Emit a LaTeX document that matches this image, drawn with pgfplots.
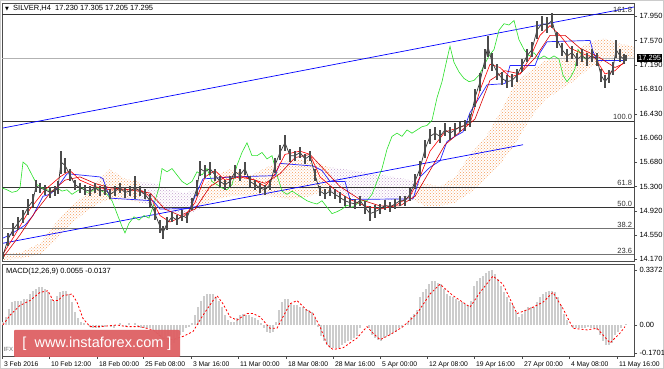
\documentclass[border=0pt]{standalone}
\usepackage{pgfplots}
\pgfplotsset{compat=1.18}
\usepackage{pgfplotstable}
\usetikzlibrary{patterns}
\usepackage{fontspec}
\setmainfont{Liberation Sans}
\newfontfamily\dejavu{DejaVu Sans}
\definecolor{wm}{RGB}{222,96,100}
\definecolor{chik}{RGB}{40,225,40}
\definecolor{lilac}{RGB}{195,160,205}
\definecolor{cloudor}{RGB}{245,155,90}
\newcommand\fs{\fontsize{7.5}{9}\selectfont}
\newcommand\fx{\fontsize{6.8}{8}\selectfont}

\pgfplotstableread{
t c e
3 14.23 0.06
8 14.48 0.10
13 14.63 0.10
18 14.73 0.10
23 14.83 0.10
28 14.98 0.12
33 15.08 0.10
36 15.31 0.10
40 15.28 0.08
45 15.25 0.08
50 15.21 0.08
55 15.23 0.08
58 15.28 0.10
61 15.68 0.18
65 15.63 0.12
70 15.48 0.10
75 15.33 0.08
80 15.28 0.08
85 15.25 0.08
90 15.23 0.08
95 15.28 0.08
100 15.23 0.08
105 15.25 0.08
110 15.18 0.08
115 15.23 0.08
120 15.28 0.08
125 15.21 0.08
130 15.23 0.08
135 15.28 0.18
140 15.23 0.08
145 15.18 0.08
150 15.08 0.10
155 14.88 0.10
160 14.68 0.10
163 14.58 0.10
167 14.73 0.10
172 14.83 0.08
177 14.78 0.08
182 14.85 0.08
187 14.81 0.08
192 15.03 0.10
197 15.28 0.12
200 15.58 0.12
205 15.53 0.10
210 15.58 0.10
215 15.48 0.10
220 15.38 0.08
225 15.33 0.08
230 15.38 0.08
235 15.53 0.10
240 15.48 0.10
245 15.58 0.10
250 15.38 0.08
255 15.33 0.08
260 15.28 0.08
265 15.25 0.08
270 15.33 0.08
275 15.63 0.12
280 15.83 0.12
285 15.98 0.12
290 15.78 0.10
295 15.78 0.08
300 15.83 0.08
305 15.73 0.08
310 15.78 0.08
315 15.48 0.10
320 15.23 0.08
325 15.18 0.08
330 15.23 0.08
335 15.18 0.08
340 15.13 0.08
345 15.08 0.08
350 15.05 0.08
355 15.03 0.08
360 15.08 0.08
365 14.98 0.10
370 14.88 0.12
375 14.91 0.10
380 14.95 0.08
385 15.01 0.08
390 14.98 0.08
395 15.03 0.08
400 15.08 0.08
405 15.08 0.08
410 15.18 0.10
415 15.38 0.12
420 15.58 0.12
425 15.88 0.14
430 16.08 0.12
435 16.13 0.10
440 16.08 0.10
445 16.18 0.10
450 16.13 0.10
455 16.18 0.10
460 16.23 0.08
465 16.25 0.08
470 16.33 0.10
475 16.68 0.14
480 16.93 0.14
485 17.28 0.16
488 17.48 0.16
492 17.23 0.14
497 17.08 0.12
502 16.98 0.10
507 16.93 0.10
512 16.95 0.10
517 17.03 0.10
522 17.18 0.10
527 17.33 0.10
532 17.43 0.12
537 17.73 0.14
542 17.83 0.12
547 17.81 0.12
552 17.88 0.12
557 17.58 0.12
562 17.43 0.10
567 17.33 0.10
572 17.38 0.10
577 17.28 0.10
582 17.33 0.10
587 17.28 0.10
592 17.33 0.10
597 17.28 0.10
601 17.03 0.10
605 16.93 0.10
609 17.01 0.10
613 17.13 0.10
616 17.43 0.14
620 17.33 0.10
624 17.28 0.08
626 17.295 0.05
}\price

\pgfplotstableread{
t v
3 0.02
6 0.05
9 0.10
12 0.14
15 0.15
18 0.15
21 0.15
24 0.16
27 0.16
30 0.19
33 0.21
36 0.22
39 0.23
42 0.23
45 0.22
48 0.20
51 0.16
54 0.15
57 0.18
60 0.20
63 0.21
66 0.21
69 0.19
72 0.14
75 0.08
78 0.04
81 0.02
84 0.01
87 0.00
90 -0.01
93 -0.02
96 -0.02
99 -0.02
102 -0.01
105 -0.01
108 0.00
111 -0.01
114 -0.02
117 0.00
120 0.01
123 0.00
126 -0.01
129 0.01
132 0.00
135 0.01
138 -0.01
141 -0.02
144 -0.02
147 -0.02
150 -0.02
153 -0.03
156 -0.05
159 -0.07
162 -0.09
165 -0.10
168 -0.11
171 -0.12
174 -0.11
177 -0.09
180 -0.06
183 -0.04
186 -0.02
189 -0.01
192 0.01
195 0.06
198 0.11
201 0.15
204 0.18
207 0.19
210 0.19
213 0.19
216 0.17
219 0.15
222 0.11
225 0.06
228 0.03
231 0.02
234 0.02
237 0.04
240 0.06
243 0.07
246 0.06
249 0.06
252 0.05
255 0.04
258 0.03
261 0.01
264 -0.02
267 -0.04
270 -0.05
273 -0.04
276 0.02
279 0.09
282 0.14
285 0.16
288 0.16
291 0.13
294 0.12
297 0.12
300 0.11
303 0.11
306 0.10
309 0.09
312 0.08
315 0.04
318 -0.01
321 -0.07
324 -0.10
327 -0.12
330 -0.14
333 -0.14
336 -0.14
339 -0.14
342 -0.12
345 -0.11
348 -0.10
351 -0.09
354 -0.08
357 -0.07
360 -0.02
363 0.00
366 0.00
369 -0.02
372 -0.06
375 -0.08
378 -0.09
381 -0.10
384 -0.08
387 -0.07
390 -0.06
393 -0.05
396 -0.04
399 -0.02
402 -0.01
405 0.00
408 0.02
411 0.05
414 0.07
417 0.09
420 0.17
423 0.20
426 0.22
429 0.25
432 0.27
435 0.27
438 0.26
441 0.25
444 0.22
447 0.19
450 0.18
453 0.17
456 0.16
459 0.15
462 0.14
465 0.13
468 0.12
471 0.15
474 0.24
477 0.27
480 0.29
483 0.30
486 0.32
489 0.33
492 0.34
495 0.31
498 0.28
501 0.24
504 0.20
507 0.17
510 0.14
513 0.12
516 0.08
519 0.05
522 0.07
525 0.09
528 0.11
531 0.11
534 0.11
537 0.14
540 0.17
543 0.19
546 0.20
549 0.21
552 0.21
555 0.20
558 0.17
561 0.12
564 0.07
567 0.03
570 0.00
573 -0.02
576 -0.02
579 -0.02
582 -0.02
585 -0.02
588 -0.01
591 -0.02
594 -0.02
597 -0.03
600 -0.06
603 -0.10
606 -0.12
609 -0.12
612 -0.11
615 -0.06
618 -0.04
621 -0.02
624 0.00
626 0.005
}\hist

\pgfplotstableread{
t v
3 0.00
10 0.06
20 0.12
30 0.15
40 0.20
48 0.21
53 0.15
58 0.15
63 0.18
72 0.19
77 0.14
83 0.04
90 -0.01
100 -0.01
117 0.00
127 -0.01
140 -0.01
153 -0.03
163 -0.08
173 -0.09
183 -0.07
193 -0.04
203 0.06
213 0.15
217 0.18
223 0.13
230 0.05
237 0.03
247 0.07
253 0.07
260 0.05
270 -0.02
277 -0.02
283 0.05
290 0.13
297 0.15
307 0.09
313 0.07
320 -0.01
327 -0.12
333 -0.15
343 -0.14
357 -0.08
367 -0.01
373 -0.05
380 -0.09
390 -0.06
403 -0.01
417 0.07
430 0.19
440 0.25
453 0.18
470 0.11
480 0.20
493 0.30
503 0.25
517 0.07
530 0.10
543 0.14
553 0.20
563 0.10
573 -0.02
587 -0.03
597 -0.02
610 -0.11
620 -0.05
625 -0.01
}\signal

\begin{document}
\begin{tikzpicture}
\path[use as bounding box] (0,0) rectangle (664pt,369pt);
\fill[white] (0,0) rectangle (664pt,369pt);
\draw[gray!40] (0.5pt,0.5pt) rectangle (663.5pt,368.5pt);

\begin{axis}[
  at={(2pt,108pt)}, anchor=south west, scale only axis,
  width=632pt, height=258pt,
  xmin=2, xmax=634, ymin=14.144, ymax=18.152,
  axis line style={black!70, line width=0.8pt},
  xtick=\empty,
  ytick={14.17,14.55,14.92,15.30,15.68,16.06,16.43,16.81,17.19,17.57,17.95},
  yticklabels={14.170,14.550,14.920,15.300,15.680,16.060,16.430,16.810,17.190,17.570,17.950},
  ytick pos=right, yticklabel pos=right, tick align=outside,
  major tick length=3pt, tick style={black!70},
  yticklabel style={font=\fs, anchor=west, xshift=-1pt},
]
% cloud (span A / span B)
\addplot[draw=none, pattern=crosshatch dots, pattern color=cloudor] coordinates {(3,14.25)(20,14.27)(40,14.42)(55,14.72)(70,14.97)(85,15.17)(100,15.42)(110,15.57)(125,15.42)(140,15.37)(140,15.05)(125,15.10)(110,15.10)(100,15.05)(85,14.90)(70,14.70)(55,14.45)(40,14.25)(20,14.18)(3,14.16)} -- cycle;
\addplot[draw=none, pattern=crosshatch dots, pattern color=lilac] coordinates {(140,15.37)(155,15.35)(170,15.25)(185,15.20)(200,15.27)(200,14.95)(185,14.85)(170,14.90)(155,15.00)(140,15.05)} -- cycle;
\addplot[draw=none, pattern=crosshatch dots, pattern color=cloudor] coordinates {(200,15.27)(215,15.47)(230,15.57)(250,15.47)(270,15.62)(290,15.72)(310,15.72)(325,15.62)(330,15.60)(330,15.22)(325,15.25)(310,15.15)(290,15.10)(270,15.15)(250,15.15)(230,15.15)(215,15.10)(200,14.95)} -- cycle;
\addplot[draw=none, pattern=crosshatch dots, pattern color=lilac] coordinates {(330,15.60)(345,15.57)(365,15.52)(385,15.47)(405,15.42)(415,15.38)(415,15.08)(405,15.08)(385,15.10)(365,15.10)(345,15.15)(330,15.22)} -- cycle;
\addplot[draw=none, pattern=crosshatch dots, pattern color=cloudor] coordinates {(415,15.38)(425,15.35)(440,15.30)(455,15.45)(470,15.80)(485,16.05)(500,16.45)(515,16.90)(530,17.10)(545,17.25)(560,17.30)(575,17.40)(590,17.55)(605,17.60)(620,17.52)(634,17.48)(634,17.28)(620,17.28)(605,17.25)(590,17.15)(575,16.95)(560,16.80)(545,16.65)(530,16.35)(515,15.95)(500,15.65)(485,15.40)(470,15.20)(455,15.05)(440,15.00)(425,15.00)(415,15.08)} -- cycle;
% fibonacci levels
\addplot[black!80, line width=0.7pt] coordinates {(2,17.98)(634,17.98)};
\addplot[black!80, line width=0.7pt] coordinates {(2,16.32)(634,16.32)};
\addplot[black!80, line width=0.7pt] coordinates {(2,15.29)(634,15.29)};
\addplot[black!80, line width=0.7pt] coordinates {(2,14.97)(634,14.97)};
\addplot[black!55, line width=0.7pt] coordinates {(2,14.645)(634,14.645)};
\addplot[black!55, line width=0.7pt] coordinates {(2,14.25)(634,14.25)};
\addplot[gray!60, line width=0.5pt] coordinates {(2,17.295)(634,17.295)};
% trend channel
\addplot[blue, line width=0.7pt] coordinates {(3,16.21)(634,18.09)};
\addplot[blue, line width=0.7pt] coordinates {(3,14.42)(523,15.95)};
% chikou
\addplot[chik, line width=0.6pt] table[x expr=\thisrow{t}-38, y=c] {\price};
% kijun
\addplot[blue!85, line width=0.7pt] coordinates {(3,14.50)(10,14.55)(17,14.62)(25,14.70)(33,14.85)(43,15.15)(50,15.18)(58,15.30)(67,15.50)(100,15.45)(103,15.42)(110,15.12)(153,15.08)(160,14.95)(190,14.96)(197,15.22)(203,15.42)(233,15.45)(275,15.47)(280,15.66)(313,15.62)(322,15.55)(330,15.38)(345,15.38)(350,15.10)(413,15.11)(420,15.45)(430,15.60)(440,15.70)(447,16.00)(455,16.08)(463,16.15)(470,16.45)(480,16.70)(487,16.88)(505,16.90)(510,17.18)(535,17.18)(540,17.38)(547,17.55)(590,17.57)(593,17.40)(597,17.26)(624,17.26)};
% moving averages
\addplot[red, line width=0.6pt] coordinates {(3,14.25)(15,14.55)(30,14.95)(45,15.25)(60,15.45)(70,15.55)(80,15.40)(95,15.30)(110,15.25)(125,15.25)(140,15.25)(150,15.15)(160,14.85)(170,14.75)(185,14.85)(195,15.05)(205,15.45)(215,15.55)(225,15.40)(240,15.45)(255,15.40)(265,15.30)(275,15.50)(285,15.80)(300,15.85)(310,15.80)(320,15.45)(335,15.25)(350,15.10)(365,15.00)(380,14.95)(395,15.00)(410,15.15)(420,15.45)(430,15.85)(445,16.15)(460,16.22)(470,16.28)(480,16.80)(490,17.20)(500,17.15)(510,17.00)(520,17.05)(530,17.30)(540,17.65)(550,17.80)(560,17.65)(570,17.45)(585,17.35)(595,17.30)(605,17.05)(615,17.10)(625,17.25)};
\addplot[red!85!black, line width=0.6pt] coordinates {(3,14.20)(20,14.55)(35,14.90)(50,15.20)(65,15.40)(80,15.45)(95,15.35)(110,15.28)(130,15.25)(150,15.20)(165,14.95)(180,14.85)(195,14.95)(210,15.30)(225,15.45)(245,15.45)(265,15.35)(280,15.50)(295,15.75)(310,15.80)(325,15.55)(340,15.30)(360,15.10)(380,15.00)(400,15.00)(415,15.15)(430,15.55)(445,15.95)(460,16.15)(475,16.35)(490,16.95)(505,17.10)(520,17.05)(535,17.30)(550,17.65)(565,17.65)(580,17.45)(600,17.30)(615,17.15)(625,17.22)};
% price bars
\addplot[black!80, line width=0.7pt, mark=none,
  error bars/.cd, y dir=both, y explicit, error mark=none,
  error bar style={line width=1.4pt, black!70}]
  table[x=t, y=c, y error=e] {\price};
\end{axis}

% texts of the price panel, placed in picture units
\node[anchor=south east, font=\fs, inner sep=0.8pt, text=black!80] at (633pt,355pt) {161.8};
\node[anchor=south east, font=\fs, inner sep=0.8pt, text=black!80] at (633pt,248pt) {100.0};
\node[anchor=south east, font=\fs, inner sep=0.8pt, text=black!80] at (633pt,182pt) {61.8};
\node[anchor=south east, font=\fs, inner sep=0.8pt, text=black!80] at (633pt,161pt) {50.0};
\node[anchor=south east, font=\fs, inner sep=0.8pt, text=black!80] at (633pt,140pt) {38.2};
\node[anchor=south east, font=\fs, inner sep=0.8pt, text=black!80] at (633pt,114pt) {23.6};
\node[anchor=west, fill=black, text=white, font=\fs, inner sep=1pt] at (637pt,311pt) {17.295};
\node[anchor=west, font=\fs, inner sep=0pt] at (5pt,361pt) {{\dejavu\fontsize{5}{6}\selectfont ▼}\ \ SILVER,H4\ \ 17.230 17.305 17.205 17.295};

\begin{axis}[
  at={(2pt,13pt)}, anchor=south west, scale only axis,
  width=632pt, height=92pt,
  xmin=2, xmax=634, ymin=-0.19, ymax=0.374,
  axis line style={black!70, line width=0.8pt},
  xtick={2,49,97,143,191,238,286,333,380,427,474,522,569,617},
  xticklabels={3 Feb 2016,10 Feb 12:00,18 Feb 00:00,25 Feb 08:00,3 Mar 16:00,11 Mar 00:00,18 Mar 08:00,28 Mar 16:00,5 Apr 00:00,12 Apr 08:00,19 Apr 16:00,27 Apr 00:00,4 May 08:00,11 May 16:00},
  xtick pos=bottom, xticklabel style={font=\fx, anchor=north west, xshift=-1.5pt, yshift=1pt},
  ytick={-0.1701,0,0.3372},
  yticklabels={-0.1701,0.00,0.3372},
  ytick pos=right, yticklabel pos=right, tick align=outside,
  major tick length=3pt, tick style={black!70},
  yticklabel style={font=\fs, anchor=west, xshift=-1pt},
]
\addplot[ycomb, black!20, line width=1.5pt, mark=none] table[x=t,y=v] {\hist};
\addplot[red, line width=0.8pt, dash pattern=on 2pt off 2pt] table[x=t,y=v] {\signal};
\end{axis}
\node[anchor=west, font=\fs, inner sep=0pt] at (6pt,97pt) {MACD(12,26,9) 0.0055 -0.0137};

\node[anchor=west, font=\fontsize{6}{7}\selectfont, text=black!60, inner sep=0pt] at (3.5pt,20pt) {IFX};
\fill[wm, opacity=0.95, rounded corners=1pt] (14pt,12pt) rectangle (180pt,39pt);
\node[text=white, font=\fontsize{14.5}{16}\selectfont, inner sep=0pt] at (97pt,25.5pt) {[\ \ www.instaforex.com\ ]};
\end{tikzpicture}
\end{document}
